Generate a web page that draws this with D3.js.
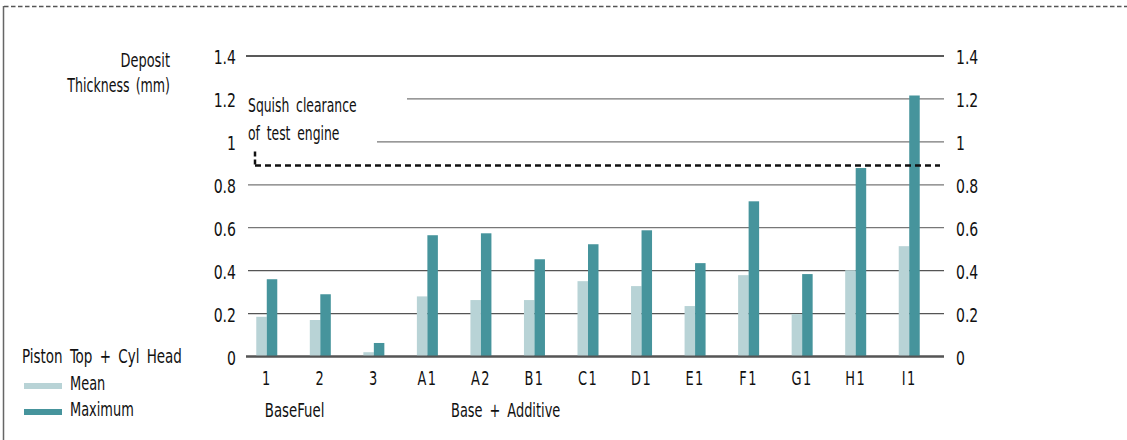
<!DOCTYPE html>
<html>
<head>
<meta charset="utf-8">
<script src="https://cdn.jsdelivr.net/npm/d3@7"></script>
<style>
  html, body { margin: 0; padding: 0; background: #fff; }
  svg { display: block; }
  text { font-family: "DejaVu Sans Condensed", "DejaVu Sans", sans-serif; fill: #111; }
</style>
</head>
<body>
<script>
const categories = ["1", "2", "3", "A1", "A2", "B1", "C1", "D1", "E1", "F1", "G1", "H1", "I1"];
const meanValues = [0.185, 0.17, 0.02, 0.28, 0.263, 0.263, 0.351, 0.328, 0.235, 0.379, 0.198, 0.402, 0.514];
const maxValues  = [0.36, 0.29, 0.063, 0.565, 0.574, 0.453, 0.523, 0.588, 0.435, 0.723, 0.384, 0.878, 1.216];
const yTicks = [0, 0.2, 0.4, 0.6, 0.8, 1, 1.2, 1.4];
const squishClearance = 0.89;
const seriesNames = ["Mean", "Maximum"];
const seriesColors = ["#b8d3d6", "#46949c"];
const groupLabels = ["BaseFuel", "Base + Additive"];

const W = 1127, H = 440;
const svg = d3.select("body").append("svg").attr("width", W).attr("height", H);

// compressed text helper (narrow humanist look)
function label(parent, x, y, str, anchor, sx, size, ws) {
  const g = parent.append("g").attr("transform", `translate(${x},${y}) scale(${sx},1)`);
  return g.append("text").attr("x", 0).attr("y", 0)
    .attr("text-anchor", anchor || "start")
    .attr("font-size", size || 20)
    .attr("word-spacing", ws || 0)
    .text(str);
}

// frame
svg.append("line").attr("x1", 4).attr("x2", W).attr("y1", 6.5).attr("y2", 6.5)
  .attr("stroke", "#555").attr("stroke-width", 1.5).attr("stroke-dasharray", "4.5,2.5");
svg.append("line").attr("x1", 3.5).attr("x2", 3.5).attr("y1", 6).attr("y2", H)
  .attr("stroke", "#666").attr("stroke-width", 1.5);

const y = d3.scaleLinear().domain([0, 1.4]).range([356.5, 56]);
const x = d3.scaleBand().domain(categories).range([240, 936]).padding(0);
const xs = d3.scaleBand().domain(seriesNames).range([-10.5, 10.5]);

const gridX0 = 246, gridX1 = 944;
const gridStart = v => (Math.abs(v - 1.2) < 1e-6 ? 407 : Math.abs(v - 1) < 1e-6 ? 377 : (v === 0 || v === 1.4 ? 246 : 248));
const gridColor = v => (v === 1.4 ? "#222" : v === 0 ? "#555" : (v <= 0.4 ? "#555" : "#777"));

// gridlines
svg.append("g").selectAll("line").data(yTicks).join("line")
  .attr("x1", d => gridStart(d)).attr("x2", gridX1)
  .attr("y1", d => y(d)).attr("y2", d => y(d))
  .attr("stroke", gridColor)
  .attr("stroke-width", d => d === 0 ? 2 : 1.3);

const fmt = d => d === 0 ? "0" : (d === 1 ? "1" : String(+d.toFixed(1)));

const axL = svg.append("g"), axR = svg.append("g");
yTicks.forEach(t => {
  label(axL, 236, y(t) + 8, fmt(t), "end", 0.78, 20);
  label(axR, 956, y(t) + 8, fmt(t), "start", 0.78, 20);
});

// axis title
label(svg, 170, 67, "Deposit", "end", 0.72, 20);
label(svg, 170, 92, "Thickness (mm)", "end", 0.70, 20, 3);

// squish label
label(svg, 248, 112, "Squish clearance", "start", 0.69, 20, 4);
label(svg, 248, 140, "of test engine", "start", 0.69, 20, 4);

// bars
const data = categories.map((c, i) => ({ c, vals: [meanValues[i], maxValues[i]] }));
const g = svg.append("g").selectAll("g").data(data).join("g")
  .attr("transform", d => `translate(${x(d.c) + x.bandwidth() / 2},0)`);
g.selectAll("rect").data(d => d.vals.map((v, k) => ({ v, k }))).join("rect")
  .attr("x", d => xs(seriesNames[d.k]))
  .attr("width", xs.bandwidth())
  .attr("y", d => y(d.v))
  .attr("height", d => y(0) - y(d.v))
  .attr("fill", d => seriesColors[d.k]);

// baseline over bars
svg.append("line").attr("x1", gridX0).attr("x2", gridX1).attr("y1", y(0)).attr("y2", y(0))
  .attr("stroke", "#555").attr("stroke-width", 2);

// squish clearance dashed line
svg.append("line").attr("x1", 255).attr("x2", 940)
  .attr("y1", y(squishClearance)).attr("y2", y(squishClearance))
  .attr("stroke", "#111").attr("stroke-width", 2.5).attr("stroke-dasharray", "6,4");
svg.append("line").attr("x1", 255).attr("x2", 255)
  .attr("y1", y(squishClearance) - 14).attr("y2", y(squishClearance))
  .attr("stroke", "#111").attr("stroke-width", 2.5).attr("stroke-dasharray", "5,3");

// category labels
const cl = svg.append("g");
categories.forEach(c => label(cl, x(c) + x.bandwidth() / 2, 385, c, "middle", 0.72, 20, 0).attr("letter-spacing", 2));

// group labels
label(svg, x(categories[0]) + x.bandwidth() / 2 - 2, 417, groupLabels[0], "start", 0.74, 20);
label(svg, 451, 417, groupLabels[1], "start", 0.72, 20, 4);

// legend
label(svg, 22, 363, "Piston Top + Cyl Head", "start", 0.75, 20, 4);
const lg = svg.append("g").selectAll("g").data(seriesNames).join("g")
  .attr("transform", (d, i) => `translate(0,${386 + i * 26})`);
lg.append("rect").attr("x", 24).attr("y", -3).attr("width", 38).attr("height", 6)
  .attr("fill", (d, i) => seriesColors[i]);
lg.each(function (d) { label(d3.select(this), 70, 4, d, "start", 0.72, 20); });
</script>
</body>
</html>
